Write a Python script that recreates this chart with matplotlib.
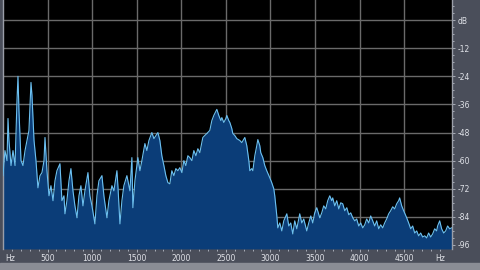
import numpy as np
import matplotlib
matplotlib.use("Agg")
import matplotlib.pyplot as plt
from matplotlib.patches import Rectangle

# spectrum: frequency (Hz) and level (dB)
freq_hz = [0, 22, 45, 56, 67, 90, 112, 135, 157, 168, 179, 202, 224, 247, 269, 291,
           314, 325, 348, 370, 392, 415, 437, 460, 471, 493, 516, 538, 561, 583, 605,
           639, 661, 684, 695, 717, 740, 762, 785, 807, 830, 852, 874, 897, 919, 953,
           975, 998, 1031, 1054, 1076, 1110, 1132, 1166, 1188, 1222, 1244, 1278, 1289,
           1312, 1334, 1356, 1390, 1424, 1446, 1457, 1480, 1513, 1536, 1558, 1592,
           1614, 1637, 1670, 1693, 1715, 1738, 1760, 1782, 1805, 1827, 1850, 1872,
           1894, 1917, 1939, 1962, 1984, 2007, 2029, 2051, 2074, 2096, 2119, 2141,
           2164, 2186, 2208, 2242, 2264, 2287, 2320, 2343, 2365, 2399, 2421, 2444,
           2455, 2477, 2500, 2511, 2533, 2545, 2567, 2578, 2601, 2623, 2657, 2679,
           2713, 2735, 2758, 2769, 2791, 2803, 2825, 2847, 2859, 2881, 2892, 2915,
           2937, 2959, 2993, 3015, 3038, 3049, 3072, 3083, 3105, 3128, 3150, 3184,
           3206, 3228, 3251, 3273, 3296, 3329, 3352, 3374, 3408, 3430, 3453, 3475,
           3497, 3520, 3554, 3576, 3598, 3621, 3643, 3666, 3688, 3699, 3722, 3744,
           3767, 3789, 3811, 3834, 3857, 3879, 3901, 3924, 3946, 3968, 3991, 4013,
           4036, 4058, 4080, 4103, 4125, 4148, 4170, 4192, 4215, 4237, 4260, 4282,
           4304, 4327, 4349, 4372, 4394, 4417, 4439, 4450, 4473, 4495, 4529, 4551,
           4574, 4596, 4619, 4641, 4663, 4686, 4708, 4731, 4753, 4775, 4798, 4820,
           4843, 4865, 4876, 4899, 4921, 4944, 4966, 4988, 5011, 5033]
level_db = [-66.4, -55.7, -60.0, -42.0, -51.4, -62.1, -55.7, -62.1, -34.3, -24.0, -38.6,
            -60.0, -62.1, -55.7, -51.4, -47.1, -26.6, -32.1, -51.4, -60.0, -71.6, -66.4,
            -65.1, -60.0, -50.1, -64.3, -75.0, -70.7, -77.1, -68.6, -64.3, -61.3, -77.1,
            -75.0, -82.7, -77.1, -68.6, -63.4, -72.9, -79.3, -84.4, -75.0, -70.7, -79.3,
            -72.9, -65.1, -75.0, -79.3, -87.0, -75.0, -68.6, -66.4, -75.0, -84.4, -77.1,
            -70.7, -72.9, -64.3, -70.7, -87.0, -77.1, -70.7, -66.4, -72.9, -58.7, -80.1,
            -68.6, -58.7, -64.3, -60.0, -52.7, -55.7, -51.4, -48.0, -50.6, -49.3, -48.0,
            -51.4, -57.9, -62.1, -66.4, -69.4, -69.9, -64.3, -66.4, -63.4, -64.3, -63.0,
            -65.1, -60.0, -62.1, -57.9, -58.7, -60.0, -55.7, -57.9, -54.9, -56.6, -50.1,
            -49.3, -48.4, -47.1, -42.9, -40.7, -38.1, -40.7, -42.9, -41.6, -43.7, -42.0,
            -40.7, -42.9, -43.7, -46.3, -48.4, -49.3, -50.6, -51.4, -52.3, -50.1, -53.6,
            -60.0, -64.3, -63.4, -64.3, -57.9, -53.6, -51.0, -53.6, -56.6, -58.7, -62.1,
            -64.3, -67.3, -69.4, -72.0, -75.0, -83.6, -88.7, -86.6, -90.0, -85.7, -82.7,
            -87.9, -86.6, -91.3, -85.7, -89.1, -82.7, -86.6, -84.9, -90.0, -86.6, -83.6,
            -86.6, -82.3, -80.1, -84.4, -82.3, -79.3, -80.6, -77.1, -75.0, -77.1, -75.9,
            -79.3, -77.1, -80.6, -78.0, -78.4, -81.4, -80.1, -83.1, -82.3, -84.4, -85.7,
            -84.9, -87.9, -86.6, -88.7, -87.4, -84.9, -86.6, -83.6, -85.7, -87.9, -85.7,
            -89.1, -87.4, -88.7, -86.6, -84.9, -82.7, -81.4, -79.7, -80.6, -78.4, -77.1,
            -75.9, -79.3, -81.4, -84.4, -86.6, -89.1, -87.9, -90.9, -90.0, -92.1, -90.9,
            -92.6, -92.1, -93.0, -90.9, -92.6, -91.3, -89.1, -90.0, -87.9, -85.7, -89.1,
            -90.9, -90.0, -87.9, -89.1, -88.7]

x_ticks = [500, 1000, 1500, 2000, 2500, 3000, 3500, 4000, 4500]
x_labels = ["500", "1000", "1500", "2000", "2500", "3000", "3500", "4000", "4500"]
y_ticks = [0, -12, -24, -36, -48, -60, -72, -84, -96]
y_labels = ["dB", "-12", "-24", "-36", "-48", "-60", "-72", "-84", "-96"]

BOTTOM = -97.7
fig = plt.figure(figsize=(4.8, 2.7), dpi=100, facecolor="#4a4e5a")
fig.patches.append(Rectangle((0, 0), 1, 0.027, transform=fig.transFigure,
                             color="#8a8d95", zorder=0))
ax = fig.add_axes([0.00625, 0.078, 0.935, 0.922])
ax.set_facecolor("black")

ax.fill_between(freq_hz, level_db, BOTTOM, color="#0b3d78", lw=0, zorder=2)
ax.plot(freq_hz, level_db, color="#6cc0f0", lw=0.8, zorder=3)

ax.set_xlim(0, 5035)
ax.set_ylim(BOTTOM, 8.6)
for x in x_ticks:
    ax.axvline(x, color="#6a6a6a", lw=1.0, zorder=1)
for y in y_ticks:
    ax.axhline(y, color="#6a6a6a", lw=1.0, zorder=1)

ax.yaxis.tick_right()
ax.set_yticks(y_ticks, y_labels)
ax.set_yticks(np.arange(-96, 9, 3), minor=True)
ax.set_xticks(x_ticks, x_labels)
ax.set_xticks(np.arange(100, 5000, 100), minor=True)
ax.tick_params(which="both", colors="#b8bcc6", labelcolor="#e0e2e8", labelsize=5.5,
               length=2, width=0.6, pad=2)
ax.tick_params(which="minor", length=1.2)
ax.text(0.005, -0.022, "Hz", transform=ax.transAxes, color="#e0e2e8", fontsize=5.5,
        ha="left", va="top")
ax.text(0.985, -0.022, "Hz", transform=ax.transAxes, color="#e0e2e8", fontsize=5.5,
        ha="right", va="top")
for side in ["left", "right"]:
    ax.spines[side].set_color("#9a9ea8")
    ax.spines[side].set_linewidth(1.0)
for side in ["top", "bottom"]:
    ax.spines[side].set_visible(False)

fig.savefig("out.png", dpi=100, facecolor=fig.get_facecolor())
